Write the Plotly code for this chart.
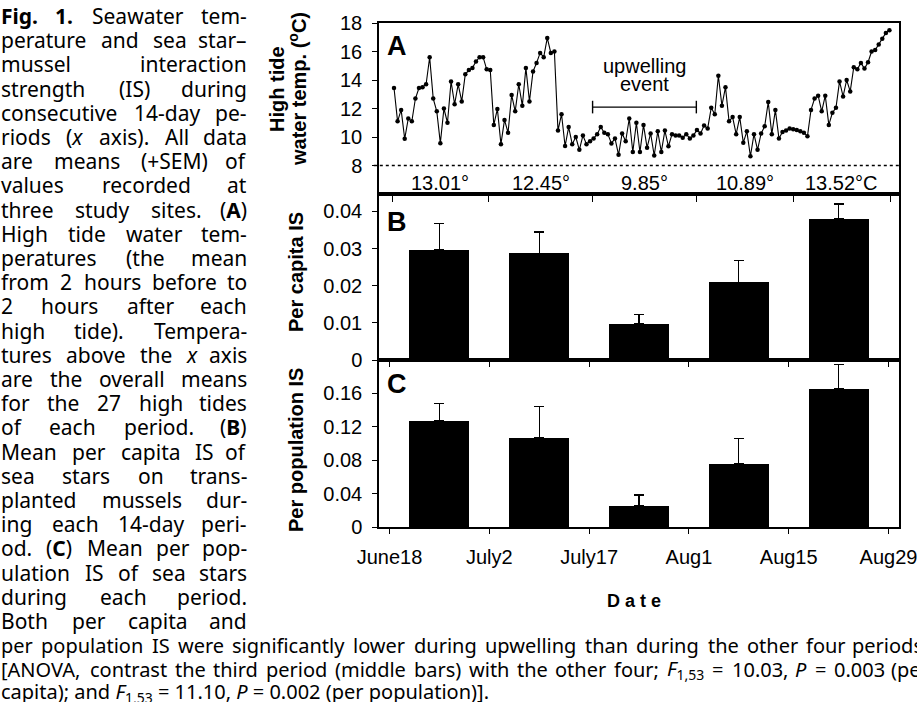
import re
import pandas as pd
import plotly.graph_objects as go

W, H = 917, 702

# ---------------- data ----------------
period_bounds = ["1996-06-18", "1996-07-02", "1996-07-17", "1996-08-01", "1996-08-15", "1996-08-29"]
period_tick_labels = ["June18", "July2", "July17", "Aug1", "Aug15", "Aug29"]
period_mean_temps = ["13.01°", "12.45°", "9.85°", "10.89°", "13.52°C"]
upwelling_period = ["1996-07-17", "1996-08-01"]

first_tide = "1996-06-18 07:00"
tide_interval = "742min"
high_tide_temps = [
    13.44, 11.1, 11.9, 9.87, 11.3, 11.1, 12.7, 13.44, 13.5, 13.7,
    15.6, 12.7, 11.8, 9.57, 12.0, 11.0, 13.9, 12.3, 13.7, 12.5,
    14.4, 14.7, 14.85, 15.3, 15.6, 15.6, 14.75, 14.7, 10.85, 11.97,
    9.5, 11.2, 10.3, 12.95, 11.8, 13.7, 12.2, 14.85, 12.5, 14.6,
    15.2, 15.9, 15.6, 16.95, 15.9, 16.0, 10.45, 11.6, 9.36, 10.7,
    9.5, 10.0, 9.1, 10.1, 9.5, 9.7, 9.9, 10.2, 10.7, 10.3,
    10.2, 9.55, 9.9, 8.75, 10.25, 9.7, 11.3, 8.95, 11.0, 8.95,
    10.85, 9.25, 10.25, 8.7, 10.4, 8.95, 10.45, 9.35, 10.2, 10.1,
    10.1, 9.95, 10.2, 9.9, 10.1, 10.5, 10.25, 10.8, 10.6, 12.05,
    11.6, 14.3, 12.2, 13.5, 11.1, 11.4, 10.2, 11.4, 9.6, 10.4,
    8.65, 10.2, 9.1, 10.25, 10.75, 12.45, 10.2, 11.9, 9.9, 10.35,
    10.45, 10.6, 10.55, 10.5, 10.4, 10.3, 10.05, 11.9, 12.7, 12.9,
    11.8, 12.9, 10.85, 11.7, 12.05, 13.9, 12.85, 14.0, 13.2, 14.9,
    14.75, 15.2, 14.8, 15.25, 16.0, 16.1, 16.5, 16.9, 17.3, 17.5,
]

per_capita_is = [0.0296, 0.0287, 0.0098, 0.0209, 0.0381]
per_capita_sem = [0.0071, 0.0058, 0.0024, 0.0059, 0.0039]
per_population_is = [0.127, 0.1073, 0.0259, 0.0762, 0.1653]
per_population_sem = [0.0207, 0.0371, 0.0128, 0.0299, 0.0291]

caption_column = [
    "<b>Fig.</b> <b>1.</b> Seawater tem-",
    "perature and sea star–",
    "mussel interaction",
    "strength (IS) during",
    "consecutive 14-day pe-",
    "riods (<i>x</i> axis). All data",
    "are means (+SEM) of",
    "values recorded at",
    "three study sites. (<b>A</b>)",
    "High tide water tem-",
    "peratures (the mean",
    "from 2 hours before to",
    "2 hours after each",
    "high tide). Tempera-",
    "tures above the <i>x</i> axis",
    "are the overall means",
    "for the 27 high tides",
    "of each period. (<b>B</b>)",
    "Mean per capita IS of",
    "sea stars on trans-",
    "planted mussels dur-",
    "ing each 14-day peri-",
    "od. (<b>C</b>) Mean per pop-",
    "ulation IS of sea stars",
    "during each period.",
    "Both per capita and",
]
caption_full = [
    "per population IS were significantly lower during upwelling than during the other four periods",
    "[ANOVA, contrast the third period (middle bars) with the other four; <i>F</i><sub>1,53</sub> = 10.03, <i>P</i> = 0.003 (per",
    "capita); and <i>F</i><sub>1,53</sub> = 11.10, <i>P</i> = 0.002 (per population)].",
]

# ---------------- styling ----------------
CF = "Arial, 'Liberation Sans', sans-serif"
TF = "'Noto Sans', 'Open Sans', sans-serif"
COL_SIZE = 21
FULL_SIZE = 20
XD = [379 / W, 899 / W]
YA = [1 - 194 / H, 1 - 23 / H]
YB = [1 - 360 / H, 1 - 194 / H]
YC = [1 - 527.3 / H, 1 - 360 / H]

tide_times = pd.date_range(first_tide, periods=len(high_tide_temps), freq=tide_interval)
bounds = pd.to_datetime(period_bounds)
day = pd.Timedelta(days=1)
xa_range = [bounds[0] - 1.88 * day, bounds[0] + 73.3 * day]
mids = [bounds[i] + (bounds[i + 1] - bounds[i]) / 2 for i in range(len(period_mean_temps))]

bar_x = [i + 0.5 for i in range(len(per_capita_is))]
bar_range = [-0.105, len(per_capita_is) + 0.105]
tick_idx = list(range(len(period_tick_labels)))

fig = go.Figure()
fig.add_trace(go.Scatter(
    x=tide_times, y=high_tide_temps, mode="lines+markers",
    line=dict(color="black", width=1.1), marker=dict(color="black", size=4.5),
    xaxis="x", yaxis="y", showlegend=False, hoverinfo="skip"))
fig.add_trace(go.Scatter(
    x=pd.to_datetime(upwelling_period), y=[12.1, 12.1], mode="lines+markers",
    line=dict(color="black", width=1.4),
    marker=dict(symbol="line-ns-open", size=9, color="black", line=dict(width=1.4, color="black")),
    xaxis="x", yaxis="y", showlegend=False, hoverinfo="skip"))
fig.add_trace(go.Bar(
    x=bar_x, y=per_capita_is, width=0.6, marker=dict(color="black", line=dict(width=0)),
    error_y=dict(type="data", symmetric=False, array=per_capita_sem,
                 arrayminus=[0] * len(per_capita_sem), color="black", thickness=1.3, width=5),
    xaxis="x2", yaxis="y2", showlegend=False, hoverinfo="skip"))
fig.add_trace(go.Bar(
    x=bar_x, y=per_population_is, width=0.6, marker=dict(color="black", line=dict(width=0)),
    error_y=dict(type="data", symmetric=False, array=per_population_sem,
                 arrayminus=[0] * len(per_population_sem), color="black", thickness=1.3, width=5),
    xaxis="x3", yaxis="y3", showlegend=False, hoverinfo="skip"))

frame = dict(showline=True, linecolor="black", linewidth=1.5, mirror=True, automargin=False,
             showgrid=False, zeroline=False, tickcolor="black", tickwidth=1.3,
             ticklabeloverflow="allow")
tickfont = dict(family=CF, size=20, color="black")
over = dict(showline=False, showgrid=False, zeroline=False, ticks="inside", ticklen=6,
            tickcolor="black", tickwidth=1.3, showticklabels=False, automargin=False)

fig.update_layout(
    width=W, height=H, margin=dict(l=0, r=0, t=0, b=0, pad=0, autoexpand=False),
    paper_bgcolor="white", plot_bgcolor="white", bargap=0,
    xaxis=dict(domain=XD, anchor="y", type="date", range=xa_range, tickvals=bounds,
               ticks="outside", ticklen=6, showticklabels=False, **frame),
    yaxis=dict(domain=YA, anchor="x", range=[6, 18], tickvals=[8, 10, 12, 14, 16, 18],
               ticks="outside", ticklen=5, tickfont=tickfont, ticklabelstandoff=6, **frame),
    xaxis2=dict(domain=XD, anchor="y2", range=bar_range, tickvals=tick_idx,
                ticks="outside", ticklen=5, showticklabels=False, **frame),
    yaxis2=dict(domain=YB, anchor="x2", range=[0, 0.0447], tickvals=[0, 0.01, 0.02, 0.03, 0.04],
                ticktext=["0", "0.01", "0.02", "0.03", "0.04"],
                ticks="outside", ticklen=5, tickfont=tickfont, ticklabelstandoff=6, **frame),
    xaxis3=dict(domain=XD, anchor="y3", range=bar_range, tickvals=tick_idx,
                ticktext=period_tick_labels, ticks="outside", ticklen=5, tickfont=tickfont,
                ticklabelstandoff=6, **frame),
    yaxis3=dict(domain=YC, anchor="x3", range=[0, 0.2], tickvals=[0, 0.04, 0.08, 0.12, 0.16],
                ticktext=["0", "0.04", "0.08", "0.12", "0.16"],
                ticks="outside", ticklen=5, tickfont=tickfont, ticklabelstandoff=6, **frame),
    xaxis4=dict(domain=XD, anchor="y", overlaying="x", type="date", range=xa_range, tickvals=bounds, **over),
    xaxis5=dict(domain=XD, anchor="y2", overlaying="x2", range=bar_range, tickvals=tick_idx, **over),
    xaxis6=dict(domain=XD, anchor="y3", overlaying="x3", range=bar_range, tickvals=tick_idx, **over),
)

fig.add_shape(type="line", xref="x domain", yref="y", x0=-0.01, x1=1, y0=8, y1=8,
              line=dict(color="black", width=1.3, dash="dot"))

ann = []
def A(text, x, y, size, xref="paper", yref="paper", xanchor="center", yanchor="middle",
      family=CF, angle=0):
    ann.append(dict(text=text, x=x, y=y, xref=xref, yref=yref, xanchor=xanchor, yanchor=yanchor,
                    showarrow=False, textangle=angle, borderpad=0,
                    font=dict(family=family, size=size, color="black")))

# period mean temperatures
for m, t in zip(mids, period_mean_temps):
    A(t, m, 6.74, 20, xref="x", yref="y")
up_mid = bounds[2] + (bounds[3] - bounds[2]) / 2
A("upwelling", up_mid, 14.97, 20, xref="x", yref="y")
A("event", up_mid, 13.71, 20, xref="x", yref="y")

# panel letters
for letter, ypx in [("A", 46), ("B", 222), ("C", 384)]:
    A("<b>%s</b>" % letter, 386 / W, 1 - ypx / H, 27, xanchor="left")

# axis titles
A("<b>High tide</b>", 277 / W, 1 - 89 / H, 20, angle=-90)
A("<b>water temp. (<sup>o</sup>C)</b>", 297 / W, 1 - 89 / H, 20, angle=-90)
A("<b>Per capita IS</b>", 296 / W, 1 - 272 / H, 20, angle=-90)
A("<b>Per population IS</b>", 296 / W, 1 - 450 / H, 20, angle=-90)
A("<b>D a t e</b>", 634 / W, 1 - 601 / H, 18)

# caption with justified words
CW = {' ': .26, 'a': .56, 'b': .615, 'c': .48, 'd': .615, 'e': .564, 'f': .344, 'g': .615,
      'h': .618, 'i': .258, 'j': .258, 'k': .524, 'l': .258, 'm': .937, 'n': .618, 'o': .605,
      'p': .615, 'q': .615, 'r': .408, 's': .479, 't': .361, 'u': .618, 'v': .508, 'w': .786,
      'x': .523, 'y': .508, 'z': .468, '.': .268, ',': .258, '(': .303, ')': .303, '-': .322,
      '–': .5, '+': .572, '[': .329, ']': .329, ';': .268, '=': .572, 'I': .32, 'S': .549,
      'A': .65, 'B': .66, 'C': .64, 'F': .53, 'P': .61, 'M': .9, 'H': .74, 'N': .76,
      'O': .78, 'V': .62, 'E': .56}

def cw(c):
    if c.isdigit():
        return 0.572
    return CW.get(c, 0.6 if c.isupper() else 0.55)

def text_w(s, size):
    tot = 0.0
    for m in re.finditer(r"<sub>(.*?)</sub>|<[^>]+>|([^<]+)", s):
        if m.group(1) is not None:
            tot += 0.7 * sum(cw(c) for c in m.group(1))
        elif m.group(2) is not None:
            tot += sum(cw(c) for c in m.group(2))
    return tot * size

def justified(line, ypx, right, size):
    words = line.split(" ")
    widths = [text_w(w, size) for w in words]
    gap = (right - sum(widths)) / (len(words) - 1)
    xpos = 0.0
    for i, (w, ww) in enumerate(zip(words, widths)):
        if i == len(words) - 1:
            A(w, right / W, 1 - ypx / H, size, xanchor="right", family=TF)
        else:
            A(w, xpos / W, 1 - ypx / H, size, xanchor="left", family=TF)
        xpos += ww + gap

LINE0, STEP = 16, 24.2
for k, line in enumerate(caption_column):
    justified(line, LINE0 + STEP * k, 248, COL_SIZE)
n = len(caption_column)
justified(caption_full[0], LINE0 + STEP * n, 924, FULL_SIZE)
justified(caption_full[1], LINE0 + STEP * (n + 1), 930, FULL_SIZE)
A(caption_full[2], 0, 1 - (LINE0 + STEP * (n + 2) - 1) / H, FULL_SIZE, xanchor="left", family=TF)

fig.update_layout(annotations=ann)
fig.write_html("out.html", config={"displayModeBar": False},
               post_script="document.body.style.margin='0';document.body.style.overflow='hidden';")
